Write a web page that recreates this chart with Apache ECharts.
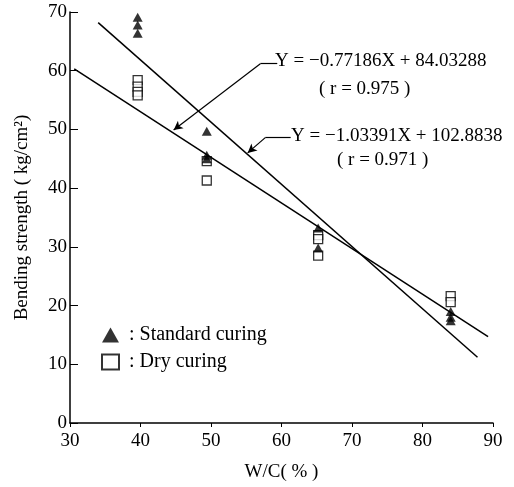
<!DOCTYPE html>
<html>
<head>
<meta charset="utf-8">
<script src="https://cdn.jsdelivr.net/npm/echarts@6/dist/echarts.min.js"></script>
<style>
html, body { margin: 0; padding: 0; background: #fff; }
#chart { width: 514px; height: 487px; }
</style>
</head>
<body>
<div id="chart"></div>
<script>
// W/C (%) and bending strength
const standardX = [39.6, 39.6, 39.6, 49.4, 49.4, 49.4, 65.2, 65.2, 84.0, 84.0, 84.0];
const standardY = [69.1, 67.8, 66.4, 49.7, 45.6, 45.0, 33.2, 29.8, 19.0, 18.0, 17.4];
const dryX = [39.6, 39.6, 39.6, 39.6, 49.4, 49.4, 65.2, 65.2, 65.2, 84.0, 84.0];
const dryY = [58.4, 57.3, 56.4, 55.8, 44.6, 41.3, 32.0, 31.3, 28.5, 21.6, 20.6];

// regression lines, end points as drawn
const fitAX = [34.0, 87.8];   // Y = -1.03391X + 102.8838
const fitAY = [68.2, 11.2];
const fitBX = [30.6, 89.3];   // Y = -0.77186X + 84.03288
const fitBY = [60.3, 14.7];

const xTicks = [30, 40, 50, 60, 70, 80, 90];
const yTicks = [0, 10, 20, 30, 40, 50, 60, 70];

const font = 'Liberation Serif';
const zip = (xs, ys) => xs.map((x, i) => [x, ys[i]]);

const chart = echarts.init(document.getElementById('chart'));

const option = {
  backgroundColor: '#fff',
  animation: false,
  grid: { left: 70, right: 21, top: 12, bottom: 60 },
  legend: {
    orient: 'vertical',
    left: 96,
    top: 320,
    itemWidth: 17,
    itemHeight: 15,
    itemGap: 7,
    formatter: ' : {name}',
    textStyle: { fontFamily: font, fontSize: 20, color: '#000' },
    data: [
      { name: 'Standard curing', icon: 'triangle' },
      { name: 'Dry curing', icon: 'rect' }
    ]
  },
  xAxis: {
    type: 'value',
    min: 30,
    max: 90,
    interval: 10,
    name: 'W/C( % )',
    nameLocation: 'middle',
    nameGap: 40,
    nameTextStyle: { fontFamily: font, fontSize: 19, color: '#000' },
    axisLine: { lineStyle: { color: '#000', width: 1.5 } },
    axisTick: { inside: false, length: 4, lineStyle: { color: '#000' } },
    axisLabel: {
      fontFamily: font, fontSize: 19, color: '#000', margin: 9,
      formatter: v => xTicks.includes(v) ? String(v) : ''
    },
    splitLine: { show: false }
  },
  yAxis: {
    type: 'value',
    min: 0,
    max: 70,
    interval: 10,
    name: 'Bending strength ( kg/cm²)',
    nameLocation: 'middle',
    nameGap: 38,
    nameTextStyle: { fontFamily: font, fontSize: 19, color: '#000' },
    axisLine: { show: true, lineStyle: { color: '#000', width: 1.5 } },
    axisTick: { show: true, inside: true, length: 8, lineStyle: { color: '#000' } },
    axisLabel: {
      fontFamily: font, fontSize: 19, color: '#000', margin: 3,
      formatter: v => yTicks.includes(v) ? String(v) : ''
    },
    splitLine: { show: false }
  },
  series: [
    {
      name: 'fitA',
      type: 'line',
      data: zip(fitAX, fitAY),
      symbol: 'none',
      lineStyle: { color: '#000', width: 1.5 },
      markLine: {
        silent: true,
        symbol: ['none', 'arrow'],
        symbolSize: [7, 9],
        label: { show: false },
        lineStyle: { color: '#000', width: 1.2, type: 'solid' },
        data: [
          [{ coord: [57.7, 48.6] }, { coord: [55.2, 46.0] }],
          [{ coord: [61.3, 48.6], symbol: 'none' }, { coord: [57.7, 48.6], symbol: 'none' }]
        ]
      }
    },
    {
      name: 'fitB',
      type: 'line',
      data: zip(fitBX, fitBY),
      symbol: 'none',
      lineStyle: { color: '#000', width: 1.5 },
      markLine: {
        silent: true,
        symbol: ['none', 'arrow'],
        symbolSize: [7, 9],
        label: { show: false },
        lineStyle: { color: '#000', width: 1.2, type: 'solid' },
        data: [
          [{ coord: [57.0, 61.2] }, { coord: [44.7, 49.9] }],
          [{ coord: [59.4, 61.2], symbol: 'none' }, { coord: [57.0, 61.2], symbol: 'none' }]
        ]
      }
    },
    {
      name: 'Dry curing',
      type: 'scatter',
      data: zip(dryX, dryY),
      symbol: 'rect',
      symbolSize: 9,
      itemStyle: { color: '#fff', borderColor: '#000', borderWidth: 1.3 }
    },
    {
      name: 'Standard curing',
      type: 'scatter',
      data: zip(standardX, standardY),
      symbol: 'triangle',
      symbolSize: [10, 9],
      itemStyle: { color: '#000' }
    }
  ],
  graphic: [
    { type: 'text', left: 275, top: 52, style: { text: 'Y = −0.77186X + 84.03288', fontFamily: font, fontSize: 19, fill: '#000' } },
    { type: 'text', left: 319, top: 80, style: { text: '( r = 0.975 )', fontFamily: font, fontSize: 19, fill: '#000' } },
    { type: 'text', left: 291, top: 127, style: { text: 'Y = −1.03391X + 102.8838', fontFamily: font, fontSize: 19, fill: '#000' } },
    { type: 'text', left: 337, top: 151, style: { text: '( r = 0.971 )', fontFamily: font, fontSize: 19, fill: '#000' } }
  ]
};

chart.setOption(option);
</script>
</body>
</html>
